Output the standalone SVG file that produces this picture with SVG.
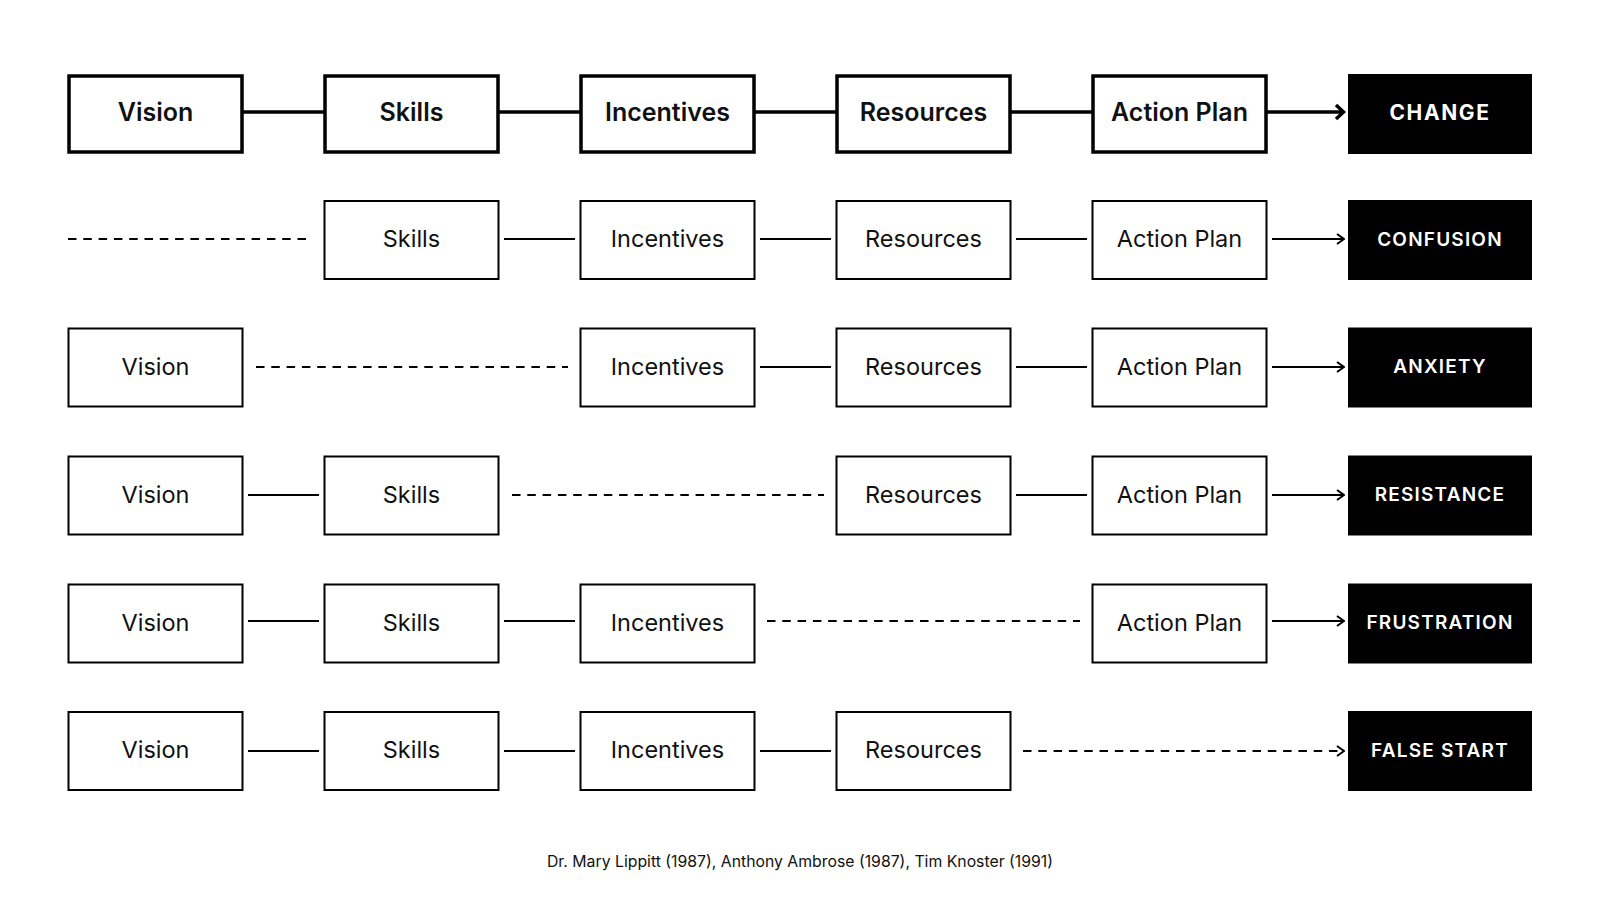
<svg xmlns="http://www.w3.org/2000/svg" width="1600" height="900" viewBox="0 0 1600 900">
<style>
.b{fill:#fff;stroke:#000;stroke-width:2}
.bt{fill:#fff;stroke:#000;stroke-width:3.5}
.k{fill:#000}
.t{font-family:Inter,"Liberation Sans",sans-serif;font-size:23.5px;fill:#111;text-anchor:middle;dominant-baseline:central}
.tb{font-family:Inter,"Liberation Sans",sans-serif;font-size:25px;font-weight:600;fill:#111;text-anchor:middle;dominant-baseline:central}
.tw{font-family:Inter,"Liberation Sans",sans-serif;font-size:19px;font-weight:600;letter-spacing:1.2px;fill:#fff;text-anchor:middle;dominant-baseline:central}
.twb{font-family:Inter,"Liberation Sans",sans-serif;font-size:21px;font-weight:700;letter-spacing:1.6px;fill:#fff;text-anchor:middle;dominant-baseline:central}
.c{font-family:Inter,"Liberation Sans",sans-serif;font-size:15.8px;fill:#111;text-anchor:middle}
.l{stroke:#000;stroke-width:2;fill:none}
.lt{stroke:#000;stroke-width:3.5;fill:none}
.d{stroke:#000;stroke-width:2;fill:none;stroke-dasharray:8.5 6.8}
</style>
<defs>
<marker id="a" viewBox="0 0 10 12" markerWidth="10" markerHeight="12" refX="9" refY="6" orient="auto" markerUnits="userSpaceOnUse">
<path d="M2,1 L9,6 L2,11" fill="none" stroke="#000" stroke-width="2"/>
</marker>
<marker id="at" viewBox="0 0 14 18" markerWidth="14" markerHeight="18" refX="12" refY="9" orient="auto" markerUnits="userSpaceOnUse">
<path d="M4,2 L11.5,9 L4,16" fill="none" stroke="#000" stroke-width="3.5"/>
</marker>
</defs>
<rect width="1600" height="900" fill="#fff"/>
<g id="connectors">
<line class="lt" x1="243" y1="112" x2="324" y2="112"/>
<line class="lt" x1="499" y1="112" x2="580" y2="112"/>
<line class="lt" x1="755" y1="112" x2="836" y2="112"/>
<line class="lt" x1="1011" y1="112" x2="1092" y2="112"/>
<line class="lt" x1="1267" y1="112" x2="1344" y2="112" marker-end="url(#at)"/>
<line class="d" x1="68" y1="239" x2="311" y2="239"/>
<line class="l" x1="504" y1="239" x2="575" y2="239"/>
<line class="l" x1="760" y1="239" x2="831" y2="239"/>
<line class="l" x1="1016" y1="239" x2="1087" y2="239"/>
<line class="l" x1="1272" y1="239" x2="1344" y2="239" marker-end="url(#a)"/>
<line class="d" x1="256" y1="367" x2="568" y2="367"/>
<line class="l" x1="760" y1="367" x2="831" y2="367"/>
<line class="l" x1="1016" y1="367" x2="1087" y2="367"/>
<line class="l" x1="1272" y1="367" x2="1344" y2="367" marker-end="url(#a)"/>
<line class="l" x1="248" y1="495" x2="319" y2="495"/>
<line class="d" x1="512" y1="495" x2="824" y2="495"/>
<line class="l" x1="1016" y1="495" x2="1087" y2="495"/>
<line class="l" x1="1272" y1="495" x2="1344" y2="495" marker-end="url(#a)"/>
<line class="l" x1="248" y1="621" x2="319" y2="621"/>
<line class="l" x1="504" y1="621" x2="575" y2="621"/>
<line class="d" x1="767" y1="621" x2="1080" y2="621"/>
<line class="l" x1="1272" y1="621" x2="1344" y2="621" marker-end="url(#a)"/>
<line class="l" x1="248" y1="751" x2="319" y2="751"/>
<line class="l" x1="504" y1="751" x2="575" y2="751"/>
<line class="l" x1="760" y1="751" x2="831" y2="751"/>
<line class="d" x1="1023" y1="751" x2="1344" y2="751" marker-end="url(#a)"/>
</g>
<g id="r1-vision"><rect class="bt" x="69" y="76" width="173" height="76"/><text class="tb" x="155.5" y="112">Vision</text></g>
<g id="r1-skills"><rect class="bt" x="325" y="76" width="173" height="76"/><text class="tb" x="411.5" y="112">Skills</text></g>
<g id="r1-incentives"><rect class="bt" x="581" y="76" width="173" height="76"/><text class="tb" x="667.5" y="112">Incentives</text></g>
<g id="r1-resources"><rect class="bt" x="837" y="76" width="173" height="76"/><text class="tb" x="923.5" y="112">Resources</text></g>
<g id="r1-action"><rect class="bt" x="1093" y="76" width="173" height="76"/><text class="tb" x="1179.5" y="112">Action Plan</text></g>
<g id="r1-change"><rect class="k" x="1348" y="74" width="184" height="80"/><text class="twb" x="1440" y="112">CHANGE</text></g>

<g id="r2-skills"><rect class="b" x="324.5" y="201" width="174" height="78"/><text class="t" x="411.5" y="238.5">Skills</text></g>
<g id="r2-incentives"><rect class="b" x="580.5" y="201" width="174" height="78"/><text class="t" x="667.5" y="238.5">Incentives</text></g>
<g id="r2-resources"><rect class="b" x="836.5" y="201" width="174" height="78"/><text class="t" x="923.5" y="238.5">Resources</text></g>
<g id="r2-action"><rect class="b" x="1092.5" y="201" width="174" height="78"/><text class="t" x="1179.5" y="238.5">Action Plan</text></g>
<g id="r2-confusion"><rect class="k" x="1348" y="200" width="184" height="80"/><text class="tw" x="1440" y="239">CONFUSION</text></g>

<g id="r3-vision"><rect class="b" x="68.5" y="328.5" width="174" height="78"/><text class="t" x="155.5" y="366">Vision</text></g>
<g id="r3-incentives"><rect class="b" x="580.5" y="328.5" width="174" height="78"/><text class="t" x="667.5" y="366">Incentives</text></g>
<g id="r3-resources"><rect class="b" x="836.5" y="328.5" width="174" height="78"/><text class="t" x="923.5" y="366">Resources</text></g>
<g id="r3-action"><rect class="b" x="1092.5" y="328.5" width="174" height="78"/><text class="t" x="1179.5" y="366">Action Plan</text></g>
<g id="r3-anxiety"><rect class="k" x="1348" y="327.5" width="184" height="80"/><text class="tw" x="1440" y="366.5">ANXIETY</text></g>

<g id="r4-vision"><rect class="b" x="68.5" y="456.5" width="174" height="78"/><text class="t" x="155.5" y="494">Vision</text></g>
<g id="r4-skills"><rect class="b" x="324.5" y="456.5" width="174" height="78"/><text class="t" x="411.5" y="494">Skills</text></g>
<g id="r4-resources"><rect class="b" x="836.5" y="456.5" width="174" height="78"/><text class="t" x="923.5" y="494">Resources</text></g>
<g id="r4-action"><rect class="b" x="1092.5" y="456.5" width="174" height="78"/><text class="t" x="1179.5" y="494">Action Plan</text></g>
<g id="r4-resistance"><rect class="k" x="1348" y="455.5" width="184" height="80"/><text class="tw" x="1440" y="494.5">RESISTANCE</text></g>

<g id="r5-vision"><rect class="b" x="68.5" y="584.5" width="174" height="78"/><text class="t" x="155.5" y="622">Vision</text></g>
<g id="r5-skills"><rect class="b" x="324.5" y="584.5" width="174" height="78"/><text class="t" x="411.5" y="622">Skills</text></g>
<g id="r5-incentives"><rect class="b" x="580.5" y="584.5" width="174" height="78"/><text class="t" x="667.5" y="622">Incentives</text></g>
<g id="r5-action"><rect class="b" x="1092.5" y="584.5" width="174" height="78"/><text class="t" x="1179.5" y="622">Action Plan</text></g>
<g id="r5-frustration"><rect class="k" x="1348" y="583.5" width="184" height="80"/><text class="tw" x="1440" y="622.5">FRUSTRATION</text></g>

<g id="r6-vision"><rect class="b" x="68.5" y="712" width="174" height="78"/><text class="t" x="155.5" y="749.5">Vision</text></g>
<g id="r6-skills"><rect class="b" x="324.5" y="712" width="174" height="78"/><text class="t" x="411.5" y="749.5">Skills</text></g>
<g id="r6-incentives"><rect class="b" x="580.5" y="712" width="174" height="78"/><text class="t" x="667.5" y="749.5">Incentives</text></g>
<g id="r6-resources"><rect class="b" x="836.5" y="712" width="174" height="78"/><text class="t" x="923.5" y="749.5">Resources</text></g>
<g id="r6-falsestart"><rect class="k" x="1348" y="711" width="184" height="80"/><text class="tw" x="1440" y="750">FALSE START</text></g>

<text class="c" x="800" y="867">Dr. Mary Lippitt (1987), Anthony Ambrose (1987), Tim Knoster (1991)</text>
</svg>
